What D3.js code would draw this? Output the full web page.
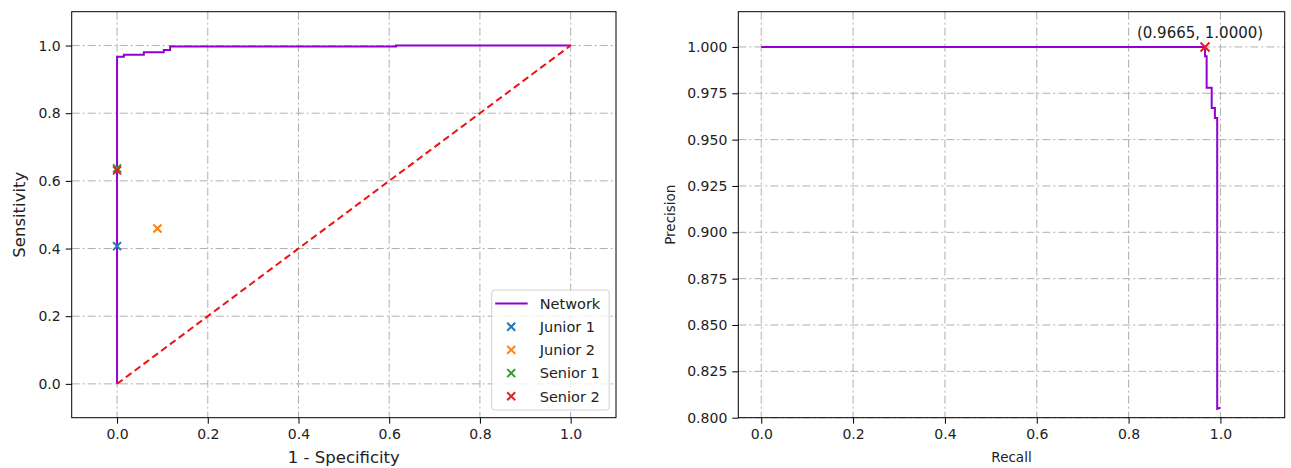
<!DOCTYPE html>
<html>
<head>
<meta charset="utf-8">
<script src="https://cdn.jsdelivr.net/npm/d3@7"></script>
<style>
  html, body { margin: 0; padding: 0; background: #fff; }
  svg { display: block; font-family: "DejaVu Sans", sans-serif; }
</style>
</head>
<body>
<div id="chart"></div>
<script>
// ROC curve of the network (step corners)
const rocFpr = [0, 0, 0.015, 0.015, 0.059, 0.059, 0.103, 0.103, 0.117, 0.117, 0.615, 0.615, 1.0];
const rocTpr = [0, 0.967, 0.967, 0.973, 0.973, 0.980, 0.980, 0.987, 0.987, 0.997, 0.997, 1.0, 1.0];

// human readers
const readers = ['Junior 1', 'Junior 2', 'Senior 1', 'Senior 2'];
const readerFpr = [0, 0.089, 0, 0];
const readerTpr = [0.407, 0.459, 0.637, 0.631];
const readerColors = ['#1f77b4', '#ff7f0e', '#2ca02c', '#d62728'];

// precision-recall curve
const prRecall = [0, 0.9665, 0.9665, 0.970, 0.970, 0.981, 0.981, 0.988, 0.988, 0.993, 0.993, 1.0];
const prPrecision = [1.0, 1.0, 0.995, 0.995, 0.978, 0.978, 0.967, 0.967, 0.9617, 0.9617, 0.8048, 0.8054];
const bestPoint = [0.9665, 1.0];

const rocTicks = [0, 0.2, 0.4, 0.6, 0.8, 1.0];
const prXTicks = [0, 0.2, 0.4, 0.6, 0.8, 1.0];
const prYTicks = [0.8, 0.825, 0.85, 0.875, 0.9, 0.925, 0.95, 0.975, 1.0];

const W = 1291, H = 468;
const purple = '#9400d3';
const gridColor = '#b0b0b0';
const textColor = '#222';

const svg = d3.select('#chart').append('svg')
  .attr('width', W).attr('height', H);

function panel(left, right, top, bottom, xDomain, yDomain, xTicks, yTicks, xFmt, yFmt) {
  const g = svg.append('g');
  const x = d3.scaleLinear().domain(xDomain).range([left, right]);
  const y = d3.scaleLinear().domain(yDomain).range([bottom, top]);

  // grid
  const grid = g.append('g')
    .attr('stroke', gridColor).attr('stroke-width', 1)
    .attr('stroke-dasharray', '8,3,2,3');
  grid.selectAll('.gx').data(xTicks).join('line')
    .attr('x1', d => x(d)).attr('x2', d => x(d))
    .attr('y1', top).attr('y2', bottom);
  grid.selectAll('.gy').data(yTicks).join('line')
    .attr('x1', left).attr('x2', right)
    .attr('y1', d => y(d)).attr('y2', d => y(d));

  // axes
  const xAxis = g.append('g').attr('transform', `translate(0,${bottom})`)
    .call(d3.axisBottom(x).tickValues(xTicks).tickFormat(xFmt).tickSize(6).tickPadding(5));
  const yAxis = g.append('g').attr('transform', `translate(${left},0)`)
    .call(d3.axisLeft(y).tickValues(yTicks).tickFormat(yFmt).tickSize(6).tickPadding(5));
  [xAxis, yAxis].forEach(a => {
    a.select('.domain').remove();
    a.selectAll('line').attr('stroke', '#000');
    a.selectAll('text').attr('fill', textColor)
      .style('font-size', '14px').style('font-family', '"DejaVu Sans", sans-serif');
  });

  const data = g.append('g');
  return { g, x, y, data, left, right, top, bottom };
}

function frame(p) {
  p.g.append('rect')
    .attr('x', p.left).attr('y', p.top)
    .attr('width', p.right - p.left).attr('height', p.bottom - p.top)
    .attr('fill', 'none').attr('stroke', '#000').attr('stroke-width', 1);
}

// ---------- left: ROC ----------
const L = panel(71.7, 616, 11.7, 417.7, [-0.1, 1.1], [-0.1, 1.1],
  rocTicks, rocTicks, d3.format('.1f'), d3.format('.1f'));

const rocLine = d3.line().x(d => L.x(d[0])).y(d => L.y(d[1]));
L.data.append('path')
  .datum(rocFpr.map((f, i) => [f, rocTpr[i]]))
  .attr('d', rocLine)
  .attr('fill', 'none').attr('stroke', purple).attr('stroke-width', 2);

L.data.append('path')
  .datum([[0, 0], [1, 1]])
  .attr('d', rocLine)
  .attr('fill', 'none').attr('stroke', '#ee1111').attr('stroke-width', 2)
  .attr('stroke-dasharray', '7,4');

function xMark(sel, size, color, width) {
  const s = size / 2;
  sel.append('path')
    .attr('d', `M${-s},${-s}L${s},${s}M${-s},${s}L${s},${-s}`)
    .attr('stroke', color).attr('stroke-width', width).attr('fill', 'none');
}

readers.forEach((r, i) => {
  const m = L.data.append('g')
    .attr('transform', `translate(${L.x(readerFpr[i])},${L.y(readerTpr[i])})`);
  xMark(m, 8, readerColors[i], 2);
});

frame(L);

// legend
const leg = L.g.append('g').attr('transform', 'translate(491.7,290)');
leg.append('rect')
  .attr('width', 117.5).attr('height', 120).attr('rx', 3)
  .attr('fill', '#fff').attr('fill-opacity', 0.8)
  .attr('stroke', '#d0d0d0').attr('stroke-width', 1);
const legItems = ['Network'].concat(readers);
legItems.forEach((name, i) => {
  const yy = 13.5 + i * 23.2;
  if (i === 0) {
    leg.append('line').attr('x1', 3.5).attr('x2', 36).attr('y1', yy).attr('y2', yy)
      .attr('stroke', purple).attr('stroke-width', 2);
  } else {
    const m = leg.append('g').attr('transform', `translate(19.5,${yy})`);
    xMark(m, 8, readerColors[i - 1], 2);
  }
  leg.append('text').attr('x', 48).attr('y', yy).attr('dy', '0.36em')
    .attr('fill', textColor).style('font-size', '14.5px').text(name);
});

// axis labels
L.g.append('text').attr('x', (71.7 + 616) / 2).attr('y', 463)
  .attr('text-anchor', 'middle').attr('fill', textColor)
  .style('font-size', '16.5px').text('1 - Specificity');
L.g.append('text')
  .attr('transform', `translate(25,${(11.7 + 417.7) / 2}) rotate(-90)`)
  .attr('text-anchor', 'middle').attr('fill', textColor)
  .style('font-size', '16.5px').text('Sensitivity');

// ---------- right: precision-recall ----------
const R = panel(738.3, 1284.7, 11.7, 417.7, [-0.05, 1.14], [0.8, 1.019],
  prXTicks, prYTicks, d3.format('.1f'), d3.format('.3f'));

const prLine = d3.line().x(d => R.x(d[0])).y(d => R.y(d[1]));
R.data.append('path')
  .datum(prRecall.map((r, i) => [r, prPrecision[i]]))
  .attr('d', prLine)
  .attr('fill', 'none').attr('stroke', purple).attr('stroke-width', 2);

const bm = R.data.append('g')
  .attr('transform', `translate(${R.x(bestPoint[0])},${R.y(bestPoint[1])})`);
xMark(bm, 9, '#f01818', 2);

R.data.append('text')
  .attr('x', R.x(bestPoint[0]) - 5).attr('y', R.y(bestPoint[1]) - 9)
  .attr('text-anchor', 'middle').attr('fill', textColor)
  .style('font-size', '15px')
  .text(`(${bestPoint[0].toFixed(4)}, ${bestPoint[1].toFixed(4)})`);

frame(R);

R.g.append('text').attr('x', (738.3 + 1284.7) / 2).attr('y', 462)
  .attr('text-anchor', 'middle').attr('fill', textColor)
  .style('font-size', '13.5px').text('Recall');
R.g.append('text')
  .attr('transform', `translate(${675},${(11.7 + 417.7) / 2}) rotate(-90)`)
  .attr('text-anchor', 'middle').attr('fill', textColor)
  .style('font-size', '13.5px').text('Precision');
</script>
</body>
</html>
